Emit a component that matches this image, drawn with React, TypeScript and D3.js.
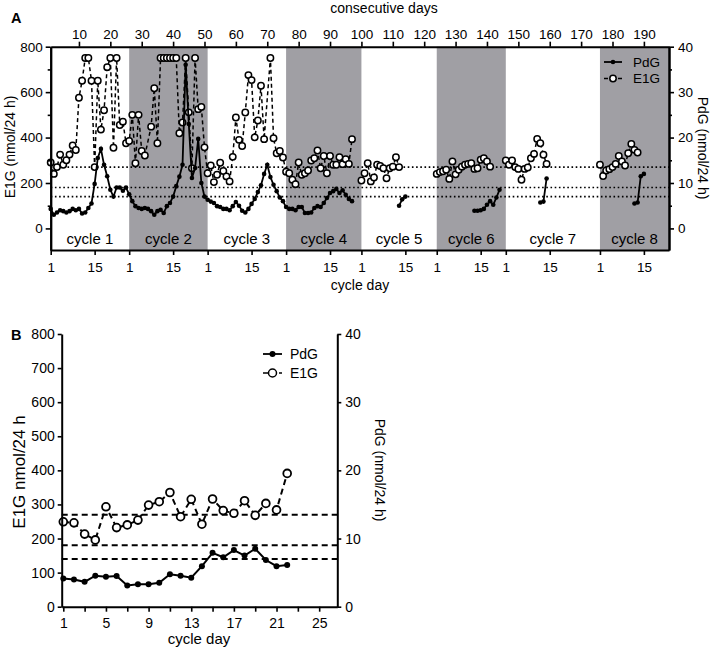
import React, { useEffect, useRef } from 'react';
import * as d3 from 'd3';

const FONT = '"Liberation Sans", Arial, sans-serif';
const _ = null;

// ---- panel A: eight cycles laid out on consecutive days ----
const cycleLabels = ['cycle 1', 'cycle 2', 'cycle 3', 'cycle 4', 'cycle 5', 'cycle 6', 'cycle 7', 'cycle 8'];
const cycleStarts = [1, 26, 51, 76, 100, 124, 146, 176];
const lastDay = 198;
const shadedCycles = [2, 4, 6, 8];
const consecutiveTicks = [10, 20, 30, 40, 50, 60, 70, 80, 90, 100, 110, 120, 130, 140, 150, 160, 170, 180, 190];
const cycleDayTicks = [1, 15];

// E1G (nmol/24 h), index = cycle day - 1 (750 = off scale)
const e1gC1 = [290, 240, 270, 325, 280, 300, 325, 365, 345, 575, 650, 750, 750, 650, 270, 650, 435, 520, 710, 750, 355, 750, 455, 470, 375];
const e1gC2 = [385, 500, 287, 500, 341, 321, _, 448, 617, 375, 750, 750, 750, 750, 750, 750, 419, 466, 750, 511, 265, 750, 525, 535, 357];
const e1gC3 = [243, 277, 204, 236, 289, 253, 229, 207, 315, 488, 390, 363, 510, 675, 653, 401, 475, 628, 393, _, 750, 397, 331, 341, 312];
const e1gC4 = [250, 243, 214, 195, 290, 236, 243, 255, 299, 309, 343, 265, 319, 243, 319, 280, 280, 313, 283, 305, 284, 393];
const e1gC5 = [211, 243, 287, 207, 224, 280, 275, 265, 221, 265, 272, 313, 270];
const e1gC6 = [240, 248, 252, 258, 218, 295, 238, 258, 272, 280, 284, 287, 262, 265, 302, 309, 295, 272];
const e1gC7 = [299, 280, 299, 270, 262, 214, 262, 268, 309, 328, 394, 375, 324, 284];
const e1gC8 = [280, 231, 255, 261, 270, 284, 319, 295, 277, 331, 372, 346, 334];

// PdG (nmol/24 h), index = cycle day - 1
const pdgC1 = [4.3, 3.0, 3.5, 4.0, 3.8, 3.5, 3.8, 4.3, 4.0, 4.3, 3.3, 3.5, 4.5, 5.5, 9.8, 15.5, 17.5, 14.0, 11.5, 8.5, 7.0, 9.0, 9.0, 8.3, 9.0];
const pdgC2 = [7.5, 6.0, 4.9, 4.5, 4.3, 4.5, 4.3, 3.8, 3.0, 3.8, 4.1, 3.4, 4.9, 5.6, 7.0, 9.3, 11.4, 14.0, 36.0, 23.0, 11.1, 13.3, 19.7, 10.0, 7.0];
const pdgC3 = [6.3, 5.9, 5.6, 4.9, 4.7, 4.3, 4.3, 4.0, 4.9, 5.8, 5.0, 3.9, 3.5, 4.3, 5.4, 6.5, 8.0, 9.5, 12.0, 14.0, 11.3, 9.6, 8.2, 6.8, 6.0];
const pdgC4 = [4.7, 4.3, 4.3, 4.0, 4.7, 4.7, 3.4, 3.4, 3.5, 4.5, 4.9, 4.7, 5.6, 6.7, 7.8, 8.2, 8.7, 7.8, 8.4, 7.4, 6.5, 6.0];
const pdgC5 = [_, _, _, _, _, _, _, _, _, _, _, _, 5.0, 6.4, 7.0];
const pdgC6 = [_, _, _, _, _, _, _, _, _, _, _, _, 3.9, 3.9, 4.0, 4.3, 5.2, 6.0, 5.2, 6.8, 8.5];
const pdgC7 = [_, _, _, _, _, _, _, _, _, _, _, 5.7, 5.9, 11.0];
const pdgC8 = [_, _, _, _, _, _, _, _, _, _, _, 5.5, 5.7, 11.5, 12.0];

const e1gCycles = [e1gC1, e1gC2, e1gC3, e1gC4, e1gC5, e1gC6, e1gC7, e1gC8];
const pdgCycles = [pdgC1, pdgC2, pdgC3, pdgC4, pdgC5, pdgC6, pdgC7, pdgC8];

// reference levels (E1G units)
const thresholds = [270, 180, 140];

// ---- panel B: one cycle ----
const bDays = [1, 2, 3, 4, 5, 6, 7, 8, 9, 10, 11, 12, 13, 14, 15, 16, 17, 18, 19, 20, 21, 22];
const bE1G = [249, 246, 213, 196, 293, 232, 240, 254, 298, 308, 335, 264, 315, 242, 316, 282, 274, 311, 268, 303, 284, 391];
const bPdG = [4.15, 4.0, 3.65, 4.55, 4.4, 4.5, 3.1, 3.3, 3.3, 3.5, 4.75, 4.55, 4.25, 5.95, 7.9, 7.25, 8.3, 7.5, 8.5, 6.85, 5.95, 6.1];
const bDayTicks = [1, 3, 5, 7, 9, 11, 13, 15, 17, 19, 21, 23, 25];
const bDayLabels = [1, 5, 9, 13, 17, 21, 25];

type Pt = { day: number; v: number };

function toSeries(cycles: (number | null)[][]): Pt[] {
  const pts: Pt[] = [];
  cycles.forEach((vals, ci) =>
    vals.forEach((v, i) => {
      if (v !== null) pts.push({ day: cycleStarts[ci] + i, v });
    })
  );
  return pts;
}

// break the line where more than one day is missing (between cycles)
function splitGaps(pts: Pt[], maxGap = 2): Pt[][] {
  const segs: Pt[][] = [];
  let cur: Pt[] = [];
  pts.forEach((p, i) => {
    if (i > 0 && p.day - pts[i - 1].day > maxGap) {
      segs.push(cur);
      cur = [];
    }
    cur.push(p);
  });
  if (cur.length) segs.push(cur);
  return segs;
}

function styleAxis(g: any, fontSize: number) {
  g.attr('font-family', FONT).attr('font-size', fontSize);
  g.select('.domain').attr('stroke', '#000').attr('stroke-width', 2);
  g.selectAll('.tick line').attr('stroke', '#000').attr('stroke-width', 1.6);
  g.selectAll('.tick text').attr('fill', '#000').attr('font-size', fontSize).attr('font-family', FONT);
}

function drawPanelA(svg: any) {
  const left = 50.7, right = 669, top = 46.7, bottom = 250;
  const x = d3.scaleLinear().domain([1, lastDay]).range([left, right]);
  const yL = d3.scaleLinear().domain([-95, 800]).range([bottom, top]);
  const yR = d3.scaleLinear().domain([-4.75, 40]).range([bottom, top]);
  const g = svg.append('g');

  // shaded cycles
  cycleStarts.forEach((s, i) => {
    if (!shadedCycles.includes(i + 1)) return;
    const e = i + 1 < cycleStarts.length ? cycleStarts[i + 1] : lastDay;
    g.append('rect')
      .attr('x', x(s)).attr('y', top)
      .attr('width', x(e) - x(s)).attr('height', bottom - top)
      .attr('fill', '#a09fa4');
  });

  // reference lines
  thresholds.forEach((t) => {
    g.append('line')
      .attr('x1', left).attr('x2', right)
      .attr('y1', yL(t)).attr('y2', yL(t))
      .attr('stroke', '#000').attr('stroke-width', 1.6)
      .attr('stroke-dasharray', '1.6,2.6');
  });

  // cycle labels
  cycleStarts.forEach((s, i) => {
    const e = i + 1 < cycleStarts.length ? cycleStarts[i + 1] : lastDay;
    g.append('text')
      .attr('x', (x(s) + x(e)) / 2).attr('y', 243.5)
      .attr('text-anchor', 'middle')
      .attr('font-family', FONT).attr('font-size', 15)
      .text(cycleLabels[i]);
  });

  const e1g = toSeries(e1gCycles);
  const pdg = toSeries(pdgCycles);
  const lineL = d3.line<Pt>().x((d) => x(d.day)).y((d) => yL(d.v));
  const lineR = d3.line<Pt>().x((d) => x(d.day)).y((d) => yR(d.v));

  splitGaps(e1g).forEach((seg) => {
    g.append('path').attr('d', lineL(seg))
      .attr('fill', 'none').attr('stroke', '#000')
      .attr('stroke-width', 1.5).attr('stroke-dasharray', '4,3');
  });
  g.selectAll('.e1g').data(e1g).enter().append('circle')
    .attr('cx', (d: Pt) => x(d.day)).attr('cy', (d: Pt) => yL(d.v))
    .attr('r', 3.2).attr('fill', '#fff').attr('stroke', '#000').attr('stroke-width', 1.5);

  splitGaps(pdg).forEach((seg) => {
    g.append('path').attr('d', lineR(seg))
      .attr('fill', 'none').attr('stroke', '#000').attr('stroke-width', 1.8);
  });
  g.selectAll('.pdg').data(pdg).enter().append('circle')
    .attr('cx', (d: Pt) => x(d.day)).attr('cy', (d: Pt) => yR(d.v))
    .attr('r', 2.3).attr('fill', '#000');

  // axes
  const ax = (axis: any, tx: number, ty: number, fs = 13.5) => {
    const a = g.append('g').attr('transform', `translate(${tx},${ty})`).call(axis);
    styleAxis(a, fs);
    return a;
  };
  ax(d3.axisLeft(yL).tickValues([100, 300, 500, 700]).tickSize(3).tickFormat(() => '').tickSizeOuter(0), left, 0);
  ax(d3.axisLeft(yL).tickValues([0, 200, 400, 600, 800]).tickSize(5).tickPadding(3).tickSizeOuter(0), left, 0);
  ax(d3.axisRight(yR).tickValues([5, 15, 25, 35]).tickSize(3).tickFormat(() => '').tickSizeOuter(0), right, 0);
  ax(d3.axisRight(yR).tickValues([0, 10, 20, 30, 40]).tickSize(5).tickPadding(4).tickSizeOuter(0), right, 0);
  ax(d3.axisTop(x).tickValues(consecutiveTicks).tickSize(5).tickPadding(3).tickSizeOuter(0), 0, top);

  const bottomTicks: number[] = [];
  const bottomLabels: string[] = [];
  cycleStarts.forEach((s) =>
    cycleDayTicks.forEach((c) => {
      bottomTicks.push(s + c - 1);
      bottomLabels.push(String(c));
    })
  );
  ax(
    d3.axisBottom(x).tickValues(bottomTicks).tickSize(5).tickPadding(7).tickSizeOuter(0)
      .tickFormat((_d: any, i: number) => bottomLabels[i]),
    0, bottom
  );

  // titles
  g.append('text').attr('x', 384).attr('y', 13).attr('text-anchor', 'middle')
    .attr('font-family', FONT).attr('font-size', 14).text('consecutive days');
  g.append('text').attr('x', 360).attr('y', 290).attr('text-anchor', 'middle')
    .attr('font-family', FONT).attr('font-size', 14).text('cycle day');
  g.append('text').attr('transform', `translate(15,147) rotate(-90)`).attr('text-anchor', 'middle')
    .attr('font-family', FONT).attr('font-size', 14).text('E1G (nmol/24 h)');
  g.append('text').attr('transform', `translate(698,148) rotate(90)`).attr('text-anchor', 'middle')
    .attr('font-family', FONT).attr('font-size', 14).text('PdG (nmol/24 h)');
  g.append('text').attr('x', 11).attr('y', 22.5)
    .attr('font-family', FONT).attr('font-size', 14.5).attr('font-weight', 'bold').text('A');

  // legend
  drawLegend(g, 604, 622, 62, 78.5, 633, 13.5, 2.3, 3.2, '4,3');
}

function drawLegend(g: any, x1: number, x2: number, y1: number, y2: number, tx: number, fs: number, rDot: number, rCirc: number, dash: string) {
  const cx = (x1 + x2) / 2;
  g.append('line').attr('x1', x1).attr('x2', x2).attr('y1', y1).attr('y2', y1)
    .attr('stroke', '#000').attr('stroke-width', 1.8);
  g.append('circle').attr('cx', cx).attr('cy', y1).attr('r', rDot).attr('fill', '#000');
  g.append('text').attr('x', tx).attr('y', y1 + 4.8).attr('font-family', FONT).attr('font-size', fs).text('PdG');
  g.append('line').attr('x1', x1).attr('x2', x2).attr('y1', y2).attr('y2', y2)
    .attr('stroke', '#000').attr('stroke-width', 1.6).attr('stroke-dasharray', dash);
  g.append('circle').attr('cx', cx).attr('cy', y2).attr('r', rCirc)
    .attr('fill', '#fff').attr('stroke', '#000').attr('stroke-width', 1.5);
  g.append('text').attr('x', tx).attr('y', y2 + 4.8).attr('font-family', FONT).attr('font-size', fs).text('E1G');
}

function drawPanelB(svg: any) {
  const left = 61.7, right = 337.3, top = 334, bottom = 606.7;
  const x = d3.scaleLinear().domain([0.85, 26.7]).range([left, right]);
  const y = d3.scaleLinear().domain([0, 800]).range([bottom, top]);
  const yR = d3.scaleLinear().domain([0, 40]).range([bottom, top]);
  const g = svg.append('g');

  thresholds.forEach((t) => {
    g.append('line')
      .attr('x1', left).attr('x2', right)
      .attr('y1', y(t)).attr('y2', y(t))
      .attr('stroke', '#000').attr('stroke-width', 2)
      .attr('stroke-dasharray', '6,4');
  });

  const e1g: Pt[] = bDays.map((d, i) => ({ day: d, v: bE1G[i] }));
  const pdg: Pt[] = bDays.map((d, i) => ({ day: d, v: bPdG[i] }));

  g.append('path')
    .attr('d', d3.line<Pt>().x((d) => x(d.day)).y((d) => y(d.v))(e1g))
    .attr('fill', 'none').attr('stroke', '#000').attr('stroke-width', 2).attr('stroke-dasharray', '6,4');
  g.selectAll('.be1g').data(e1g).enter().append('circle')
    .attr('cx', (d: Pt) => x(d.day)).attr('cy', (d: Pt) => y(d.v))
    .attr('r', 3.9).attr('fill', '#fff').attr('stroke', '#000').attr('stroke-width', 1.8);

  g.append('path')
    .attr('d', d3.line<Pt>().x((d) => x(d.day)).y((d) => yR(d.v))(pdg))
    .attr('fill', 'none').attr('stroke', '#000').attr('stroke-width', 2);
  g.selectAll('.bpdg').data(pdg).enter().append('circle')
    .attr('cx', (d: Pt) => x(d.day)).attr('cy', (d: Pt) => yR(d.v))
    .attr('r', 3).attr('fill', '#000');

  const ax = (axis: any, tx: number, ty: number, fs = 14) => {
    const a = g.append('g').attr('transform', `translate(${tx},${ty})`).call(axis);
    styleAxis(a, fs);
    return a;
  };
  ax(d3.axisLeft(y).tickValues(d3.range(0, 801, 100)).tickSize(4).tickPadding(3).tickSizeOuter(0), left, 0);
  ax(d3.axisRight(yR).tickValues([0, 10, 20, 30, 40]).tickSize(4).tickPadding(4).tickSizeOuter(0), right, 0);
  ax(
    d3.axisBottom(x).tickValues(bDayTicks).tickSize(5).tickPadding(6).tickSizeOuter(0)
      .tickFormat((d: any) => (bDayLabels.includes(d) ? String(d) : '')),
    0, bottom
  );

  g.append('text').attr('x', 199).attr('y', 644).attr('text-anchor', 'middle')
    .attr('font-family', FONT).attr('font-size', 15).text('cycle day');
  g.append('text').attr('transform', `translate(25,472) rotate(-90)`).attr('text-anchor', 'middle')
    .attr('font-family', FONT).attr('font-size', 17).text('E1G nmol/24 h');
  g.append('text').attr('transform', `translate(375,470) rotate(90)`).attr('text-anchor', 'middle')
    .attr('font-family', FONT).attr('font-size', 14).text('PdG (nmol/24 h)');
  g.append('text').attr('x', 11).attr('y', 340)
    .attr('font-family', FONT).attr('font-size', 14.5).attr('font-weight', 'bold').text('B');

  drawLegend(g, 263, 282, 354, 373, 290, 14, 3, 4, '5,3');
}

export default function App() {
  const ref = useRef<SVGSVGElement>(null);

  useEffect(() => {
    if (!ref.current) return;
    const svg = d3.select(ref.current);
    svg.selectAll('*').remove();
    drawPanelA(svg);
    drawPanelB(svg);
  }, []);

  return (
    <div style={{ position: 'absolute', left: 0, top: 0 }}>
      <svg ref={ref} width={715} height={649} style={{ display: 'block', background: '#fff' }} />
    </div>
  );
}
